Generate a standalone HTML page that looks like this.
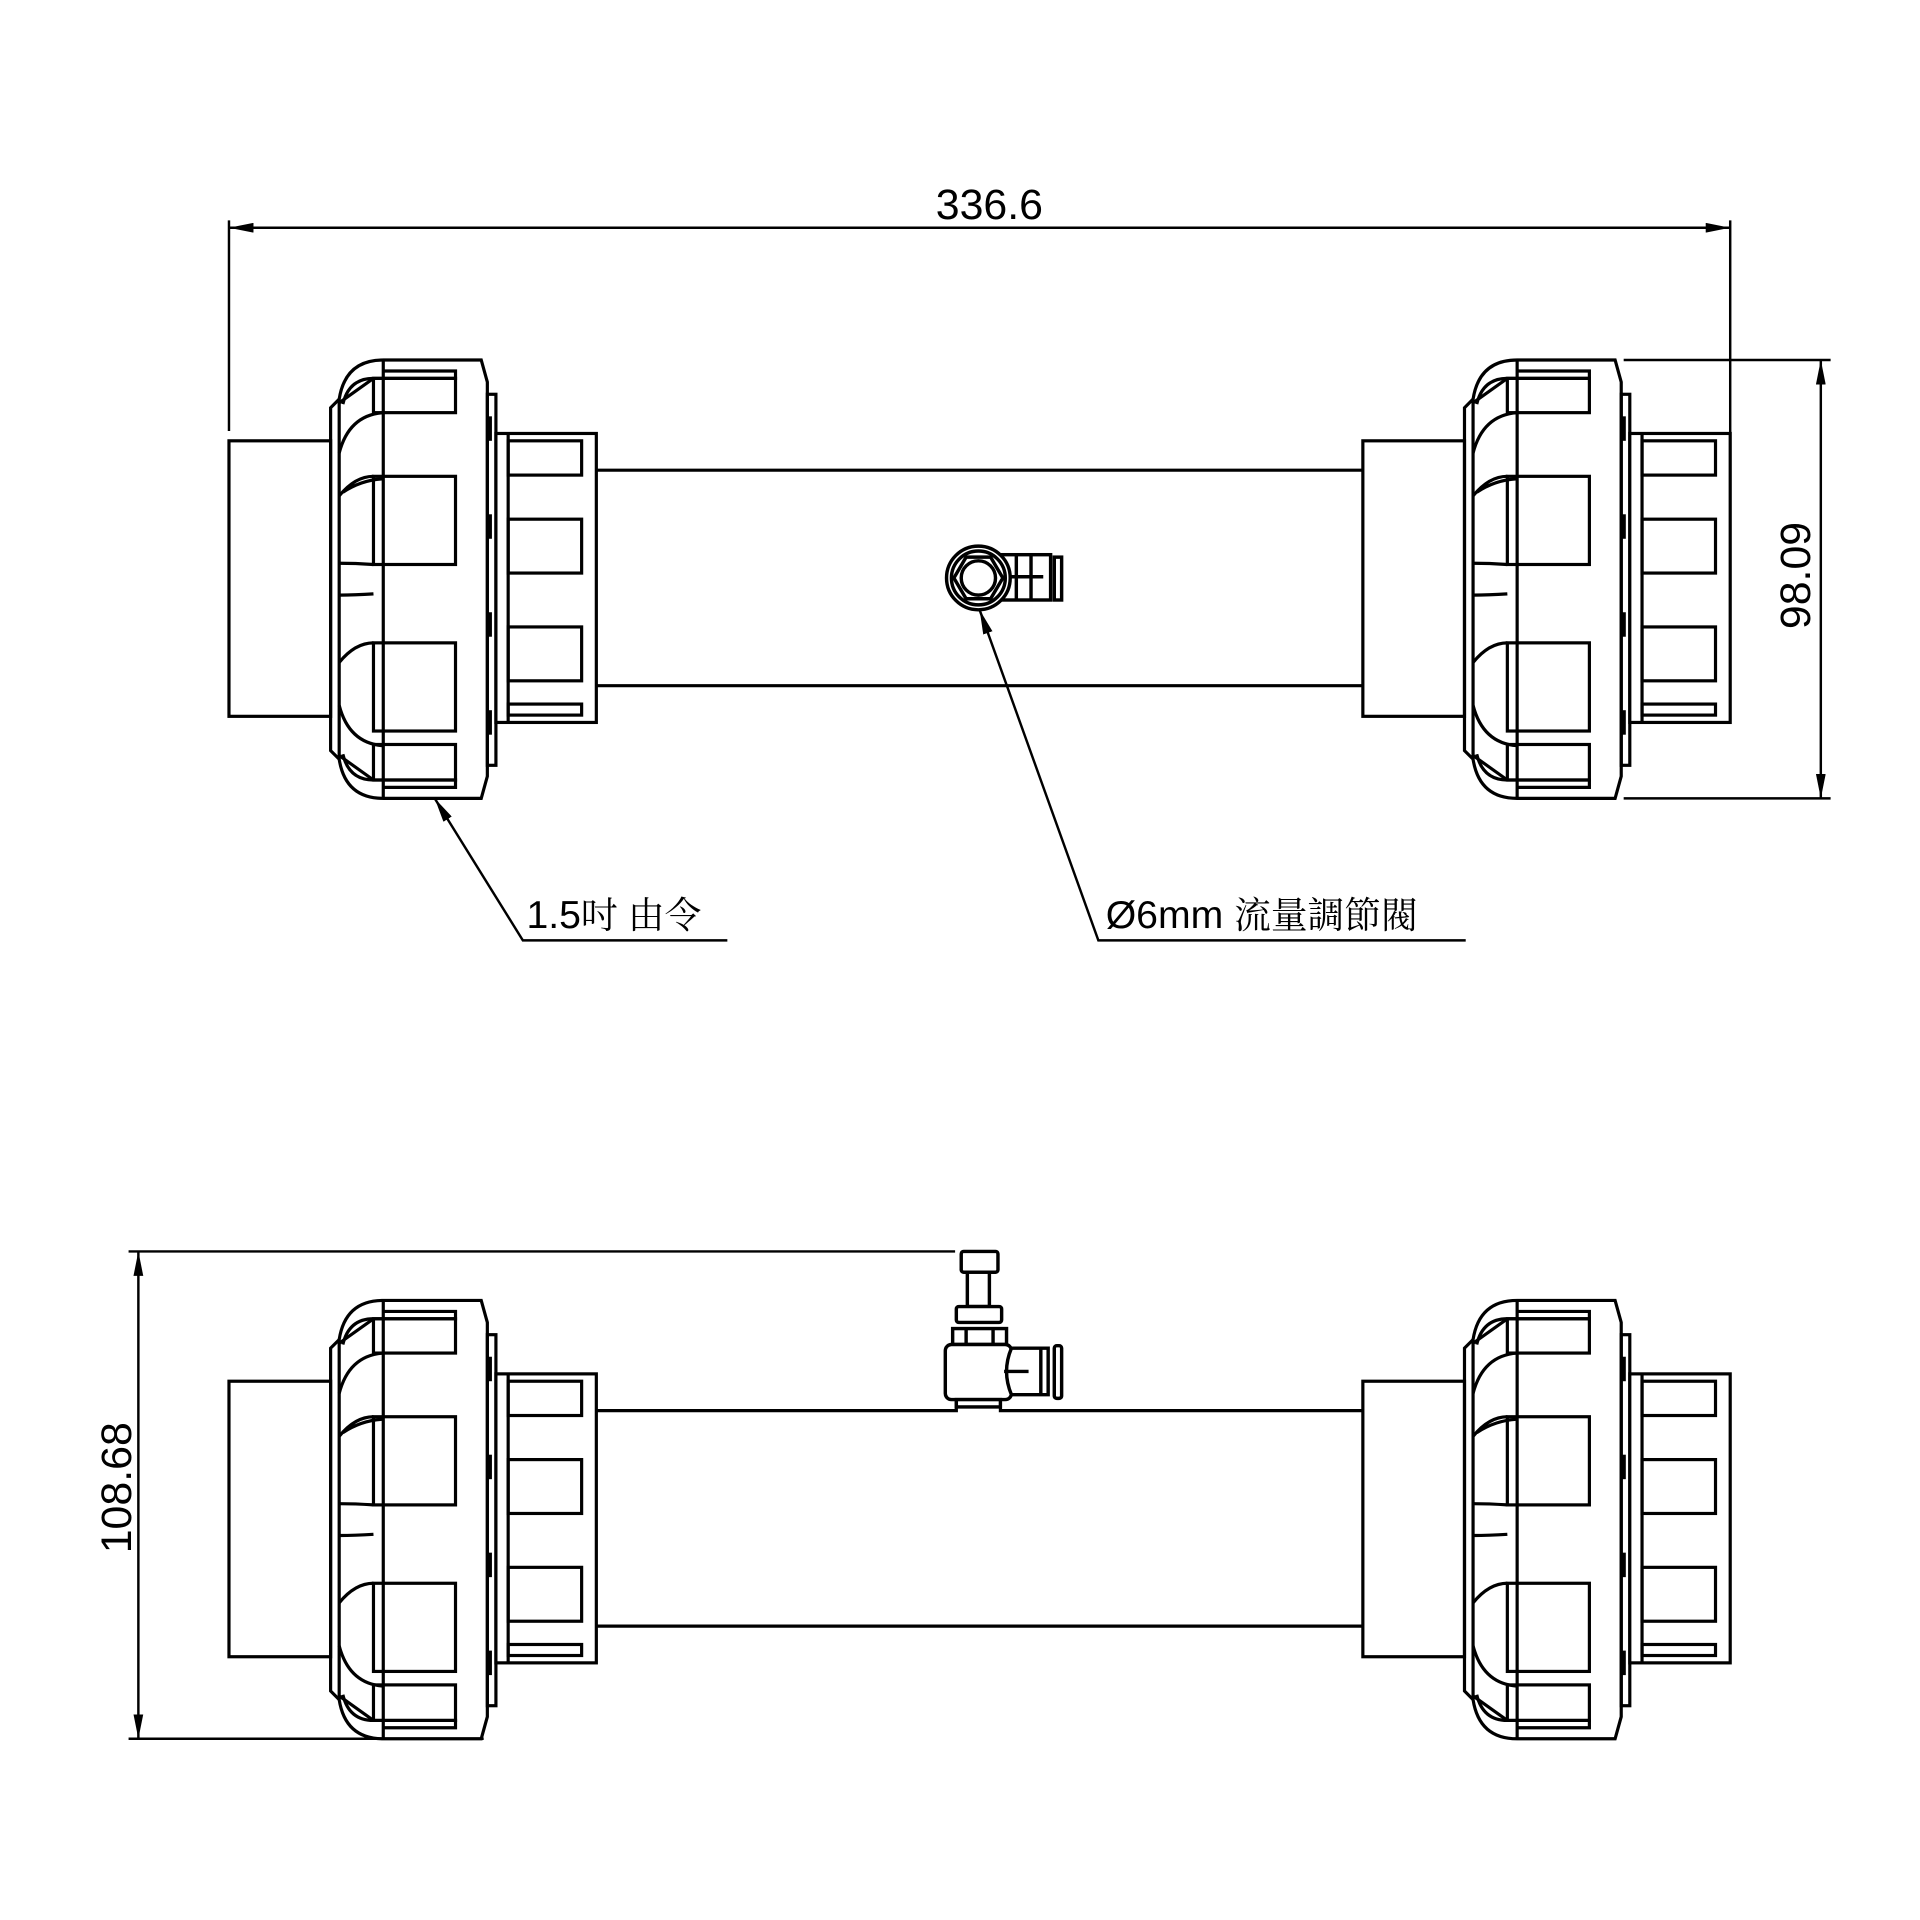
<!DOCTYPE html>
<html><head><meta charset="utf-8"><style>
html,body{margin:0;padding:0;background:#fff;}
svg{display:block;}
text{font-family:"Liberation Sans","Noto Sans CJK TC",sans-serif;fill:#000;}
.cj{font-family:"Liberation Sans","Noto Serif CJK SC",serif;}
</style></head><body>
<svg width="1920" height="1920" viewBox="0 0 1568 1568" xmlns="http://www.w3.org/2000/svg">
<defs>
<marker id="ar" viewBox="0 0 20 8" refX="20" refY="4" markerWidth="20" markerHeight="8" markerUnits="userSpaceOnUse" orient="auto-start-reverse">
<path d="M0,0 L20,4 L0,8 Z" fill="#000"/></marker>
<g id="u" fill="none" stroke="#000" stroke-width="2.6">
 <rect x="187" y="360" width="83" height="225" fill="#fff"/>
 <path d="M313,294 H393 L398,312 V634 L393,652 H313 Q282,652 277,620 V326 Q282,294 313,294 Z" fill="#fff"/>
 <path d="M277,326 L270,333 V613 L277,620"/>
 <path d="M313,303 H372 V309 H305 Q285,309 280,330"/>
 <path d="M313,643 H372 V637 H305 Q285,637 280,616"/>
 <line x1="313" y1="294" x2="313" y2="652"/>
 <path d="M277,329 L305,309"/>
 <path d="M277,617 L305,637"/>
 <rect x="305" y="309" width="67" height="28"/>
 <rect x="305" y="389" width="67" height="72"/>
 <rect x="305" y="525" width="67" height="72"/>
 <rect x="305" y="608" width="67" height="29"/>
 <path d="M277,370 Q285,339 313,337"/>
 <path d="M277,405 Q290,389 305,389 M280,402 Q295,392 313,391"/>
 <path d="M277,460 Q290,460 305,461"/>
 <path d="M277,486 Q290,486 305,485"/>
 <path d="M277,541 Q290,525 305,525"/>
 <path d="M277,576 Q285,607 313,609"/>
 <rect x="398" y="322" width="7" height="303"/>
 <line x1="400" y1="340" x2="400" y2="360" stroke-width="3.5"/>
 <line x1="400" y1="420" x2="400" y2="440" stroke-width="3.5"/>
 <line x1="400" y1="500" x2="400" y2="520" stroke-width="3.5"/>
 <line x1="400" y1="580" x2="400" y2="600" stroke-width="3.5"/>
 <rect x="405" y="354" width="82" height="236" fill="#fff"/>
 <line x1="415" y1="354" x2="415" y2="590"/>
 <rect x="415" y="360" width="60" height="28"/>
 <rect x="415" y="424" width="60" height="44"/>
 <rect x="415" y="512" width="60" height="44"/>
 <rect x="415" y="575" width="60" height="9"/>
</g>
</defs>

<g fill="none" stroke="#000" stroke-width="2.6">
 <line x1="487" y1="384" x2="1113" y2="384"/>
 <line x1="487" y1="560" x2="1113" y2="560"/>
</g>
<use href="#u"/>
<use href="#u" transform="translate(926,0)"/>
<g fill="#fff" stroke="#000" stroke-width="2.8">
 <rect x="818" y="453" width="40" height="37"/>
 <line x1="830" y1="453" x2="830" y2="490"/>
 <line x1="842" y1="453" x2="842" y2="490"/>
 <line x1="818" y1="471" x2="852" y2="471"/>
 <rect x="861" y="455" width="6" height="35"/>
 <circle cx="799" cy="472" r="26"/>
 <circle cx="799" cy="472" r="22"/>
 <polygon points="779,472 789,455 809,455 819,472 809,489 789,489"/>
 <circle cx="799" cy="472" r="14"/>
</g>

<g fill="none" stroke="#000" stroke-width="2.6">
 <path d="M487,1152 H781 V1143 M817,1143 V1152 H1113"/>
 <line x1="487" y1="1328" x2="1113" y2="1328"/>
</g>
<use href="#u" transform="translate(0,768)"/>
<use href="#u" transform="translate(926,768)"/>
<g fill="#fff" stroke="#000" stroke-width="2.8">
 <rect x="785" y="1022" width="30" height="17" rx="2"/>
 <rect x="790" y="1039" width="18" height="28"/>
 <rect x="781" y="1067" width="37" height="13" rx="2"/>
 <rect x="778" y="1085" width="44" height="13"/>
 <line x1="789" y1="1085" x2="789" y2="1098"/><line x1="811" y1="1085" x2="811" y2="1098"/>
 <rect x="772" y="1098" width="54" height="45" rx="5"/>
 <rect x="781" y="1143" width="36" height="6"/>
 <path d="M826,1101 H856 V1139 H826 Q818,1120 826,1101 Z"/>
 <line x1="820" y1="1120" x2="840" y2="1120"/>
 <line x1="850" y1="1101" x2="850" y2="1139"/>
 <rect x="861" y="1099" width="6" height="43" rx="2"/>
</g>

<g fill="none" stroke="#000" stroke-width="2">
 <line x1="187" y1="180" x2="187" y2="352"/>
 <line x1="1413" y1="180" x2="1413" y2="356"/>
 <line x1="187" y1="186" x2="1413" y2="186" marker-start="url(#ar)" marker-end="url(#ar)"/>
 <line x1="1326" y1="294" x2="1495" y2="294"/>
 <line x1="1326" y1="652" x2="1495" y2="652"/>
 <line x1="1487" y1="294" x2="1487" y2="652" marker-start="url(#ar)" marker-end="url(#ar)"/>
 <line x1="105" y1="1022" x2="780" y2="1022"/>
 <line x1="105" y1="1420" x2="395" y2="1420"/>
 <line x1="113" y1="1022" x2="113" y2="1420" marker-start="url(#ar)" marker-end="url(#ar)"/>
 <polyline points="355,652 427,768 594,768" marker-start="url(#ar)"/>
 <polyline points="800,498 897,768 1197,768" marker-start="url(#ar)"/>
</g>
<text x="808" y="179" font-size="35" text-anchor="middle">336.6</text>
<text transform="translate(1478,470) rotate(-90)" font-size="35" text-anchor="middle">98.09</text>
<text transform="translate(107,1215) rotate(-90)" font-size="35" text-anchor="middle">108.68</text>
<text x="430" y="758" font-size="32">1.5<tspan class="cj" font-size="30">吋 由令</tspan></text>
<text x="903" y="758" font-size="32">Ø6mm <tspan class="cj" font-size="30">流量調節閥</tspan></text>
</svg>
</body></html>
